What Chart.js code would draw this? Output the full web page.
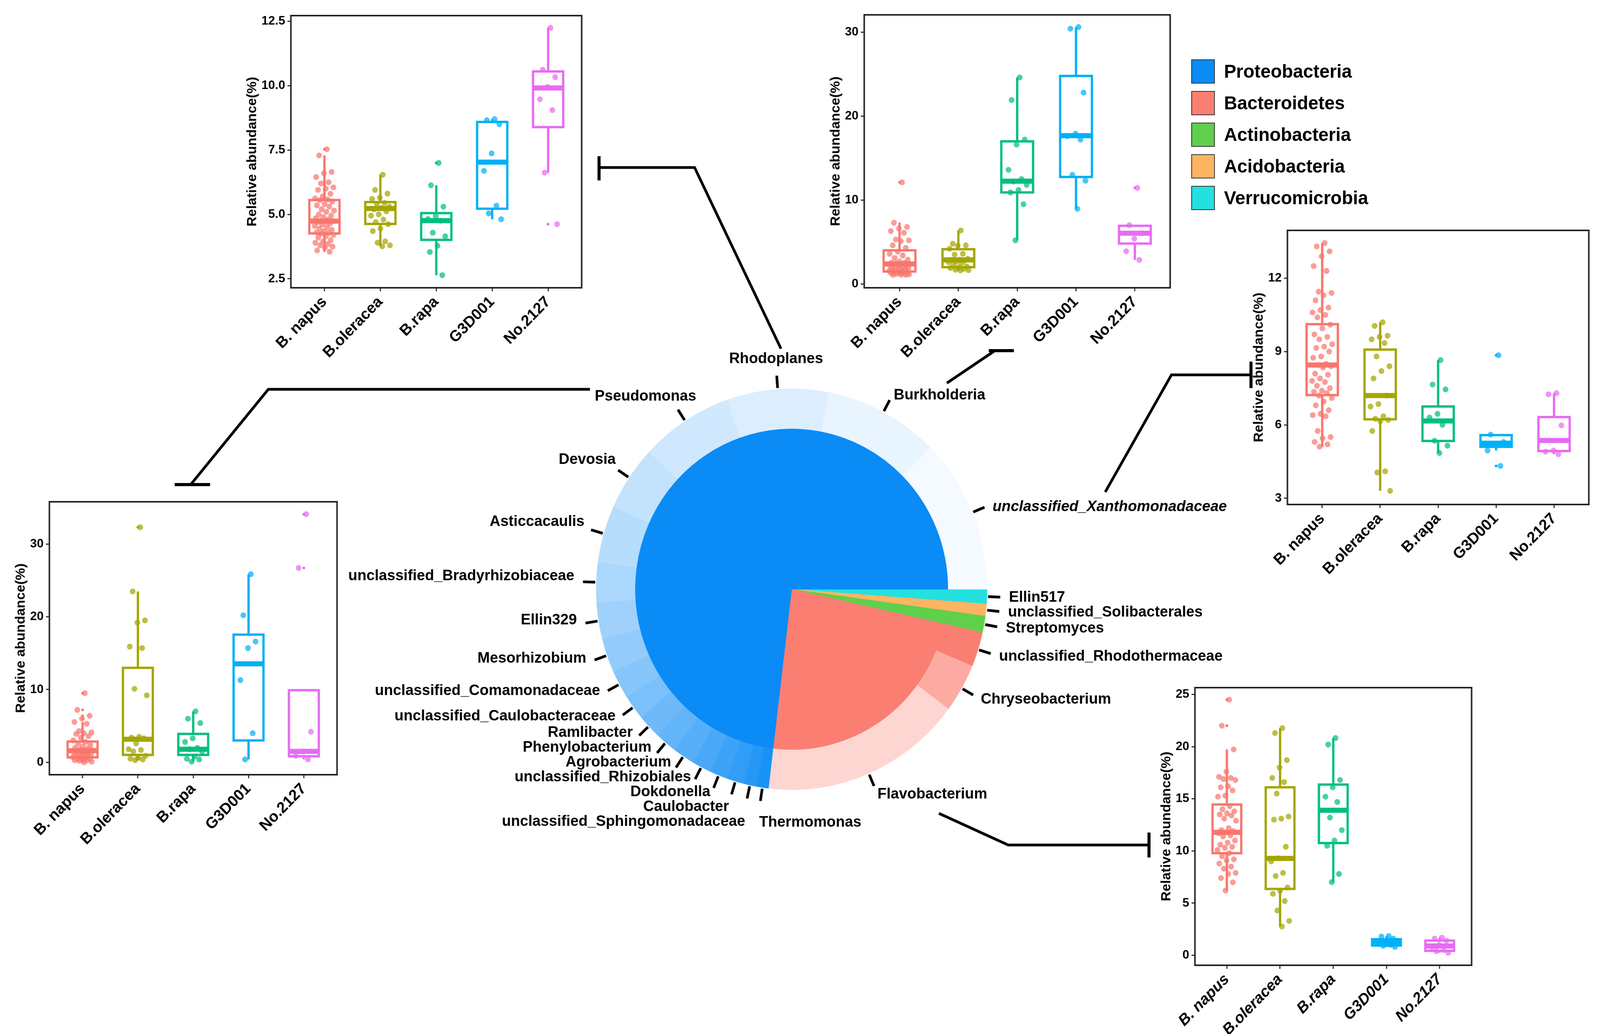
<!DOCTYPE html>
<html>
<head>
<meta charset="utf-8">
<script src="https://cdn.jsdelivr.net/npm/chart.js@4.4.0/dist/chart.umd.min.js"></script>
<style>
  html, body { margin: 0; padding: 0; background: #fff; overflow: hidden; }
  #stage { position: relative; width: 4204px; height: 2648px; overflow: hidden; background: #fff; transform-origin: 0 0; }
  .box { position: absolute; }
  #pieWrap { position: absolute; left: 0; top: 0; width: 4204px; height: 2648px; }
  #links { position: absolute; left: 0; top: 0; }
  #legend { position: absolute; left: 3130px; top: 142px; font: bold 48px 'Liberation Sans', Arial, sans-serif; color: #000; }
  .item { display: flex; align-items: center; height: 81px; }
  .swatch { width: 58px; height: 58px; border: 2px solid #333; margin-right: 24px; }
</style>
</head>
<body>
<div id="stage">
  <div class="box" id="c1"><canvas></canvas></div>
  <div class="box" id="c2"><canvas></canvas></div>
  <div class="box" id="c3"><canvas></canvas></div>
  <div class="box" id="c4"><canvas></canvas></div>
  <div class="box" id="c5"><canvas></canvas></div>
  <div id="pieWrap"><canvas id="pie"></canvas></div>
  <svg id="links" width="4204" height="2648"></svg>
  <div id="legend"></div>
</div>
<script>
// groups shown in every box plot
const groups = ['B. napus', 'B.oleracea', 'B.rapa', 'G3D001', 'No.2127'];

// box stats per group: [lower whisker, q1, median, q3, upper whisker]
// Rhodoplanes
const rhodoTicks = [2.5, 5, 7.5, 10, 12.5];
const rhodoBoxes = [
  [3.54, 4.26, 4.74, 5.56, 7.29],
  [3.76, 4.63, 5.23, 5.48, 6.54],
  [2.64, 4.01, 4.76, 5.05, 6.13],
  [4.81, 5.22, 7.03, 8.59, 8.70],
  [6.62, 8.39, 9.91, 10.55, 12.25]
];
const rhodoPoints = [
  [7.53, 7.29, 6.65, 6.6, 6.45, 6.25, 6.2, 6.05, 6.0, 5.95, 5.8, 5.7, 5.62, 5.58, 5.55, 5.5, 5.4, 5.35, 5.3, 5.2, 5.15, 5.1, 5.0, 4.95, 4.9, 4.85, 4.8, 4.76, 4.74, 4.72, 4.7, 4.65, 4.6, 4.55, 4.5, 4.45, 4.4, 4.35, 4.3, 4.28, 4.25, 4.2, 4.15, 4.1, 4.0, 3.95, 3.9, 3.85, 3.8, 3.75, 3.7, 3.6, 3.55],
  [6.54, 5.95, 5.81, 5.65, 5.6, 5.45, 5.4, 5.3, 5.25, 5.2, 5.12, 5.0, 4.95, 4.8, 4.7, 4.62, 4.45, 4.35, 3.95, 3.9, 3.8, 3.76],
  [7.0, 6.13, 5.3, 4.93, 4.82, 4.75, 4.29, 4.15, 3.78, 3.54, 2.64],
  [8.7, 8.66, 8.5, 7.37, 6.69, 5.34, 5.04, 4.81],
  [12.25, 10.62, 10.33, 9.95, 9.47, 9.05, 6.62, 4.62]
];

// Burkholderia
const burkTicks = [0, 10, 20, 30];
const burkBoxes = [
  [1.1, 1.49, 2.39, 4.01, 7.3],
  [1.62, 2.0, 2.87, 4.14, 6.37],
  [5.2, 10.91, 12.24, 16.99, 24.6],
  [8.95, 12.74, 17.66, 24.77, 30.6],
  [2.87, 4.81, 6.05, 6.93, 7.0]
];
const burkPoints = [
  [12.1, 7.3, 6.8, 6.6, 6.3, 6.1, 5.3, 5.2, 5.1, 4.6, 4.3, 3.85, 3.6, 3.4, 3.1, 2.9, 2.7, 2.55, 2.5, 2.45, 2.4, 2.38, 2.35, 2.3, 2.2, 2.1, 2.0, 1.95, 1.9, 1.8, 1.75, 1.7, 1.6, 1.55, 1.5, 1.45, 1.4, 1.35, 1.3, 1.25, 1.2, 1.15, 1.1, 1.1, 1.1],
  [6.37, 4.8, 4.6, 4.55, 4.2, 3.6, 3.5, 3.0, 2.9, 2.87, 2.8, 2.7, 2.6, 2.5, 2.3, 2.1, 2.0, 1.9, 1.8, 1.7, 1.65, 1.62],
  [24.6, 21.9, 17.2, 16.6, 13.6, 12.5, 12.2, 11.8, 11.2, 10.9, 9.5, 5.2],
  [30.6, 30.4, 22.8, 17.9, 17.6, 17.2, 13.0, 12.3, 8.95],
  [11.45, 7.0, 6.05, 5.4, 3.9, 2.87]
];

// unclassified_Xanthomonadaceae
const xanthoTicks = [3, 6, 9, 12];
const xanthoBoxes = [
  [5.11, 7.22, 8.45, 10.12, 13.44],
  [3.3, 6.23, 7.2, 9.08, 10.2],
  [4.85, 5.34, 6.16, 6.75, 8.65],
  [4.95, 5.1, 5.25, 5.58, 5.6],
  [4.8, 4.93, 5.36, 6.32, 7.3]
];
const xanthoPoints = [
  [13.44, 13.3, 13.1, 12.9, 12.5, 12.3, 11.45, 11.4, 11.3, 11.1, 10.8, 10.7, 10.6, 10.5, 10.4, 10.1, 9.95, 9.7, 9.6, 9.5, 9.3, 9.2, 9.15, 9.0, 8.8, 8.75, 8.5, 8.45, 8.4, 8.35, 8.1, 8.05, 7.9, 7.8, 7.75, 7.6, 7.5, 7.4, 7.35, 7.3, 7.2, 7.1, 6.95, 6.8, 6.6, 6.45, 6.4, 6.35, 5.75, 5.5, 5.45, 5.3, 5.2, 5.11],
  [10.2, 10.05, 9.65, 9.6, 9.5, 9.35, 8.8, 8.4, 8.2, 7.9, 7.2, 6.85, 6.75, 6.35, 6.25, 6.2, 6.15, 5.75, 4.1, 4.05, 3.3],
  [8.65, 7.65, 7.45, 6.45, 6.3, 6.0, 5.35, 5.15, 4.85],
  [8.85, 5.6, 5.3, 5.2, 4.95, 4.32],
  [7.3, 7.25, 5.98, 4.95, 4.9, 4.8]
];

// Pseudomonas
const pseudoTicks = [0, 10, 20, 30];
const pseudoBoxes = [
  [0.0, 0.68, 1.6, 2.86, 5.54],
  [0.3, 1.02, 3.17, 12.98, 23.48],
  [0.1, 1.02, 1.8, 3.91, 7.0],
  [0.4, 3.0, 13.54, 17.54, 25.85],
  [0.4, 0.83, 1.5, 9.91, 9.91]
];
const pseudoPoints = [
  [9.5, 7.2, 6.4, 6.0, 5.54, 5.3, 4.3, 4.1, 4.0, 3.9, 3.6, 3.4, 3.0, 2.8, 2.6, 2.4, 2.2, 2.0, 1.9, 1.8, 1.7, 1.6, 1.6, 1.5, 1.4, 1.3, 1.2, 1.2, 1.1, 1.0, 0.9, 0.9, 0.8, 0.7, 0.6, 0.5, 0.5, 0.4, 0.3, 0.3, 0.2, 0.1, 0.0],
  [32.3, 23.48, 19.5, 19.2, 15.9, 15.7, 10.1, 9.2, 3.5, 3.4, 3.3, 2.6, 1.8, 1.7, 1.5, 0.9, 0.6, 0.5, 0.4, 0.3],
  [7.0, 6.0, 5.4, 3.3, 2.8, 2.0, 1.8, 1.5, 0.8, 0.5, 0.4, 0.1],
  [25.85, 20.2, 16.6, 15.7, 11.3, 4.0, 0.4],
  [34.1, 26.7, 4.2, 1.5, 0.9, 0.4]
];

// Flavobacterium
const flavoTicks = [0, 5, 10, 15, 20, 25];
const flavoBoxes = [
  [6.21, 9.79, 11.79, 14.45, 19.73],
  [2.76, 6.36, 9.29, 16.1, 21.77],
  [7.02, 10.76, 13.9, 16.36, 20.82],
  [0.8, 0.94, 1.26, 1.55, 1.85],
  [0.25, 0.43, 0.9, 1.42, 1.7]
];
const flavoPoints = [
  [24.5, 22.0, 19.73, 17.6, 17.1, 17.0, 16.9, 16.8, 16.2, 16.1, 15.8, 15.3, 15.2, 14.3, 14.0, 13.8, 13.6, 13.5, 13.4, 13.1, 12.9, 12.2, 12.0, 11.9, 11.8, 11.7, 11.5, 11.4, 11.0, 10.8, 10.6, 10.4, 10.3, 10.1, 9.8, 9.5, 9.2, 9.1, 8.8, 8.5, 8.3, 7.9, 7.8, 7.4, 7.0, 6.21],
  [21.77, 21.3, 18.7, 18.0, 17.0, 16.6, 15.5, 13.3, 13.1, 13.0, 10.4, 9.3, 9.0, 7.9, 7.6, 6.5, 6.2, 5.9, 5.2, 4.3, 3.3, 2.76],
  [20.82, 20.2, 16.8, 16.1, 15.2, 14.7, 13.2, 12.0, 11.0, 10.5, 7.8, 7.02],
  [1.85, 1.8, 1.6, 1.3, 1.2, 1.0, 0.9, 0.8],
  [1.7, 1.6, 1.4, 1.0, 0.8, 0.5, 0.4, 0.25]
];

// sunburst: phyla (inner) and genera (outer ring), clockwise from 3 o'clock
const phyla = ['Proteobacteria', 'Bacteroidetes', 'Actinobacteria', 'Acidobacteria', 'Verrucomicrobia'];
const genera = ['Ellin517', 'unclassified_Solibacterales', 'Streptomyces', 'unclassified_Rhodothermaceae',
  'Chryseobacterium', 'Flavobacterium', 'Thermomonas', 'unclassified_Sphingomonadaceae', 'Caulobacter',
  'Dokdonella', 'unclassified_Rhizobiales', 'Agrobacterium', 'Phenylobacterium', 'Ramlibacter',
  'unclassified_Caulobacteraceae', 'unclassified_Comamonadaceae', 'Mesorhizobium', 'Ellin329',
  'unclassified_Bradyrhizobiaceae', 'Asticcacaulis', 'Devosia', 'Pseudomonas', 'Rhodoplanes',
  'Burkholderia', 'unclassified_Xanthomonadaceae'];
const genusPhylum = [4, 3, 2, 1, 1, 1, 0, 0, 0, 0, 0, 0, 0, 0, 0, 0, 0, 0, 0, 0, 0, 0, 0, 0, 0];
const genusAbundance = [1.17, 0.97, 1.33, 2.78, 3.94, 16.7, 1.0, 1.06, 1.39, 1.5, 1.61, 1.78, 1.83, 1.94,
  2.0, 2.28, 2.72, 2.94, 3.22, 4.61, 5.22, 7.67, 8.39, 9.44, 12.5];
const innerOrder = [4, 3, 2, 1, 0];

// styles
const groupColors = ['#F8766D', '#A3A500', '#00BF7D', '#00B0F6', '#E76BF3'];
const phylumColors = ['#0A8BF5', '#FA7F72', '#5FCF4C', '#FDB462', '#24E0E0'];
const tintRange = [[0.06, 0.955], [0, 0.68], [0, 0], [0, 0], [0, 0]];
const italicNames = new Set(['unclassified_Xanthomonadaceae']);
const FONT = "'Liberation Sans', Arial, Helvetica, sans-serif";

Chart.defaults.font.family = FONT;
Chart.defaults.font.weight = 'bold';
Chart.defaults.color = '#000';

function hexRgb(h) {
  return [1, 3, 5].map(i => parseInt(h.substr(i, 2), 16));
}
function fade(h, a) {
  const c = hexRgb(h);
  return `rgba(${c[0]},${c[1]},${c[2]},${a})`;
}
function tint(h, t) {
  const c = hexRgb(h).map(v => Math.round(v + (255 - v) * t));
  return `rgb(${c[0]},${c[1]},${c[2]})`;
}

// horizontal spread of the jittered points (deterministic)
function jitter(k) {
  return (((k + 1) * 0.6180339887) % 1 - 0.5) * 0.36;
}

// black frame around the panel
const framePlugin = {
  id: 'frame',
  afterDraw(chart) {
    const a = chart.chartArea;
    const ctx = chart.ctx;
    ctx.save();
    ctx.strokeStyle = '#222';
    ctx.lineWidth = 4;
    ctx.strokeRect(a.left, a.top, a.right - a.left, a.bottom - a.top);
    ctx.restore();
  }
};

// move / resize the wrapper so the chart area lands on the wanted rectangle
function fitPlot(chart, wrap, plot) {
  for (let k = 0; k < 2; k++) {
    const a = chart.chartArea;
    const w = parseFloat(wrap.style.width) + plot.w - (a.right - a.left);
    const h = parseFloat(wrap.style.height) + plot.h - (a.bottom - a.top);
    wrap.style.width = w + 'px';
    wrap.style.height = h + 'px';
    chart.resize();
    const b = chart.chartArea;
    wrap.style.left = (plot.l - b.left) + 'px';
    wrap.style.top = (plot.t - b.top) + 'px';
  }
}

function boxPlot(id, plot, yMin, yMax, ticks, fmt, boxes, points, italicX) {
  const wrap = document.getElementById(id);
  wrap.style.left = (plot.l - 130) + 'px';
  wrap.style.top = (plot.t - 30) + 'px';
  wrap.style.width = (plot.w + 142) + 'px';
  wrap.style.height = (plot.h + 220) + 'px';

  const BW = 0.27;
  const datasets = [];
  boxes.forEach((b, g) => {
    const x = g + 1;
    const col = groupColors[g];
    datasets.push({
      type: 'scatter', order: 0,
      data: points[g].map((v, k) => ({x: x + jitter(k), y: v})),
      backgroundColor: fade(col, 0.72), borderWidth: 0, pointRadius: 7.5
    });
    // outliers are also marked small at the group centre
    datasets.push({
      type: 'scatter', order: 0,
      data: points[g].filter(v => v > b[4] + 0.06 || v < b[0] - 0.06).map(v => ({x: x, y: v})),
      backgroundColor: col, borderWidth: 0, pointRadius: 3.5
    });
    datasets.push({
      type: 'line', order: 1,
      data: [{x: x - BW, y: b[1]}, {x: x + BW, y: b[1]}, {x: x + BW, y: b[3]}, {x: x - BW, y: b[3]}, {x: x - BW, y: b[1]}],
      borderColor: col, borderWidth: 6, pointRadius: 0, fill: false, tension: 0,
      borderJoinStyle: 'miter', borderCapStyle: 'square'
    });
    datasets.push({
      type: 'line', order: 1, spanGaps: false,
      data: [{x: x, y: b[3]}, {x: x, y: b[4]}, {x: x, y: null}, {x: x, y: b[1]}, {x: x, y: b[0]}],
      borderColor: col, borderWidth: 6, pointRadius: 0, fill: false
    });
    datasets.push({
      type: 'line', order: 1,
      data: [{x: x - BW, y: b[2]}, {x: x + BW, y: b[2]}],
      borderColor: col, borderWidth: 13, pointRadius: 0, fill: false, borderCapStyle: 'butt'
    });
  });

  const tickGrid = {display: true, drawOnChartArea: false, drawTicks: true, tickLength: 9, color: '#333', lineWidth: 3};

  const chart = new Chart(wrap.querySelector('canvas'), {
    type: 'scatter',
    data: {datasets: datasets},
    options: {
      animation: false,
      responsive: true,
      maintainAspectRatio: false,
      events: [],
      layout: {padding: {top: 30, right: 12, left: 0, bottom: 0}},
      plugins: {legend: {display: false}, tooltip: {enabled: false}},
      scales: {
        x: {
          type: 'linear', min: 0.4, max: 5.6,
          afterBuildTicks: s => { s.ticks = groups.map((g, i) => ({value: i + 1})); },
          ticks: {
            callback: v => groups[v - 1], autoSkip: false, minRotation: 45, maxRotation: 45, padding: 4,
            color: '#000', font: {size: 40, weight: 'bold', style: italicX ? 'italic' : 'normal'}
          },
          grid: tickGrid,
          border: {display: false}
        },
        y: {
          min: yMin, max: yMax,
          afterBuildTicks: s => { s.ticks = ticks.map(v => ({value: v})); },
          ticks: {callback: fmt, padding: 6, color: '#000', font: {size: 32, weight: 'bold'}},
          grid: tickGrid,
          border: {display: false},
          title: {display: true, text: 'Relative abundance(%)', color: '#000', font: {size: 35, weight: 'bold', lineHeight: 1.0}, padding: {top: 0, bottom: 0}}
        }
      }
    },
    plugins: [framePlugin]
  });
  fitPlot(chart, wrap, plot);
  return chart;
}

const oneDec = v => v.toFixed(1);
const plain = v => String(v);

boxPlot('c1', {l: 764, t: 40, w: 764, h: 697}, 2.15, 12.72, rhodoTicks, oneDec, rhodoBoxes, rhodoPoints, false);
boxPlot('c2', {l: 2271, t: 38, w: 803, h: 699}, -0.45, 32.05, burkTicks, plain, burkBoxes, burkPoints, false);
boxPlot('c3', {l: 3383, t: 590, w: 791, h: 702}, 2.74, 13.96, xanthoTicks, plain, xanthoBoxes, xanthoPoints, false);
boxPlot('c4', {l: 130, t: 1285, w: 755, h: 699}, -1.7, 35.8, pseudoTicks, plain, pseudoBoxes, pseudoPoints, false);
boxPlot('c5', {l: 3140, t: 1761, w: 726, h: 711}, -0.95, 25.65, flavoTicks, plain, flavoBoxes, flavoPoints, true);

// colours of the outer ring: lighter tints of the phylum colour
const rank = [0, 0, 0, 0, 0];
const counts = phyla.map((p, i) => genusPhylum.filter(q => q === i).length);
const genusColors = genusPhylum.map(p => {
  const r = rank[p]++;
  const n = counts[p];
  const t = n > 1 ? tintRange[p][0] + (tintRange[p][1] - tintRange[p][0]) * r / (n - 1) : 0;
  return tint(phylumColors[p], t);
});
const phylumTotals = innerOrder.map(p => genusAbundance.reduce((s, v, i) => s + (genusPhylum[i] === p ? v : 0), 0));
const innerColors = innerOrder.map(p => phylumColors[p]);

// ticks and genus names round the ring
const ringLabels = {
  id: 'ringLabels',
  afterDatasetsDraw(chart) {
    const ctx = chart.ctx;
    const arcs = chart.getDatasetMeta(0).data;
    ctx.save();
    ctx.strokeStyle = '#000';
    ctx.lineWidth = 7;
    const labels = arcs.map((arc, i) => {
      const a = (arc.startAngle + arc.endAngle) / 2;
      const c = Math.cos(a), s = Math.sin(a);
      const R = arc.outerRadius;
      ctx.beginPath();
      ctx.moveTo(arc.x + (R + 3) * c, arc.y + (R + 3) * s);
      ctx.lineTo(arc.x + (R + 35) * c, arc.y + (R + 35) * s);
      ctx.stroke();
      const name = genera[i];
      const font = (italicNames.has(name) ? 'italic ' : '') + 'bold 39px ' + FONT;
      ctx.font = font;
      const w = ctx.measureText(name).width;
      const ax = arc.x + (R + 58) * c, ay = arc.y + (R + 58) * s;
      let x, y = ay, side;
      if (c > 0.08 || (s > 0 && c > -0.18)) {
        // right-hand labels; the one at the very bottom sits on the lowest text row
        x = ax; side = 'r';
        y = ay + (s < -0.3 ? 8 : 0) + (s > 0.95 ? 32 : 0);
      }
      else if (s < 0 && c > -0.08) { x = ax - w / 2; y = ay - 20; side = 't'; }
      else if (s < 0) { x = ax - (0.5 - 0.5 * c) * w; y = ay - 14; side = 'l'; }
      else { x = ax - w; y = ay - 11; side = 'l'; }
      return {name, font, x, y, side};
    });
    // push crowded labels on the left apart
    const GAP = 38;
    const left = labels.filter(l => l.side === 'l').sort((p, q) => p.y - q.y);
    for (let k = 0; k < 300; k++) {
      for (let j = 1; j < left.length; j++) {
        const d = left[j].y - left[j - 1].y;
        if (d < GAP) {
          const m = (GAP - d) / 2;
          left[j - 1].y -= m;
          left[j].y += m;
        }
      }
    }
    ctx.fillStyle = '#000';
    ctx.textAlign = 'left';
    ctx.textBaseline = 'middle';
    labels.forEach(l => {
      ctx.font = l.font;
      ctx.fillText(l.name, l.x, l.y);
    });
    ctx.restore();
  }
};

const CX = 2080, CY = 1509, R = 514;
new Chart(document.getElementById('pie'), {
  type: 'pie',
  data: {
    labels: genera,
    datasets: [
      {data: genusAbundance, backgroundColor: genusColors, borderColor: genusColors, borderWidth: 1, weight: 102},
      {data: phylumTotals, backgroundColor: innerColors, borderColor: innerColors, borderWidth: 1, weight: 412}
    ]
  },
  options: {
    animation: false,
    responsive: true,
    maintainAspectRatio: false,
    events: [],
    rotation: 90,
    layout: {padding: {left: CX - R, top: CY - R, right: 4204 - CX - R, bottom: 2648 - CY - R}},
    plugins: {legend: {display: false}, tooltip: {enabled: false}}
  },
  plugins: [ringLabels]
});

// legend for the phyla
const legend = document.getElementById('legend');
phyla.forEach((p, i) => {
  const row = document.createElement('div');
  row.className = 'item';
  const sw = document.createElement('div');
  sw.className = 'swatch';
  sw.style.background = phylumColors[i];
  const tx = document.createElement('span');
  tx.textContent = p;
  row.appendChild(sw);
  row.appendChild(tx);
  legend.appendChild(row);
});

// connector lines from the ring to the box plots
const links = [
  {path: [[2052, 893], [1825, 429], [1574, 429]], bar: [[1574, 400], [1574, 462]]},
  {path: [[2488, 981], [2614, 898]], bar: [[2598, 898], [2664, 898]]},
  {path: [[2904, 1260], [3078, 960], [3287, 960]], bar: [[3287, 926], [3287, 994]]},
  {path: [[1550, 997], [705, 997], [501, 1241]], bar: [[459, 1241], [552, 1241]]},
  {path: [[2467, 2083], [2649, 2164], [3019, 2164]], bar: [[3019, 2132], [3019, 2196]]}
];
const svg = document.getElementById('links');
links.forEach(l => {
  const pl = document.createElementNS('http://www.w3.org/2000/svg', 'polyline');
  pl.setAttribute('points', l.path.map(p => p.join(',')).join(' '));
  pl.setAttribute('fill', 'none');
  pl.setAttribute('stroke', '#000');
  pl.setAttribute('stroke-width', '7');
  svg.appendChild(pl);
  const br = document.createElementNS('http://www.w3.org/2000/svg', 'line');
  br.setAttribute('x1', l.bar[0][0]); br.setAttribute('y1', l.bar[0][1]);
  br.setAttribute('x2', l.bar[1][0]); br.setAttribute('y2', l.bar[1][1]);
  br.setAttribute('stroke', '#000');
  br.setAttribute('stroke-width', '8');
  svg.appendChild(br);
});

// the figure is laid out on a 4204 x 2648 sheet; fit it to the real viewport
// (done last so the charts measure their boxes unscaled)
document.getElementById('stage').style.transform =
  `scale(${window.innerWidth / 4204}, ${window.innerHeight / 2648})`;
</script>
</body>
</html>
